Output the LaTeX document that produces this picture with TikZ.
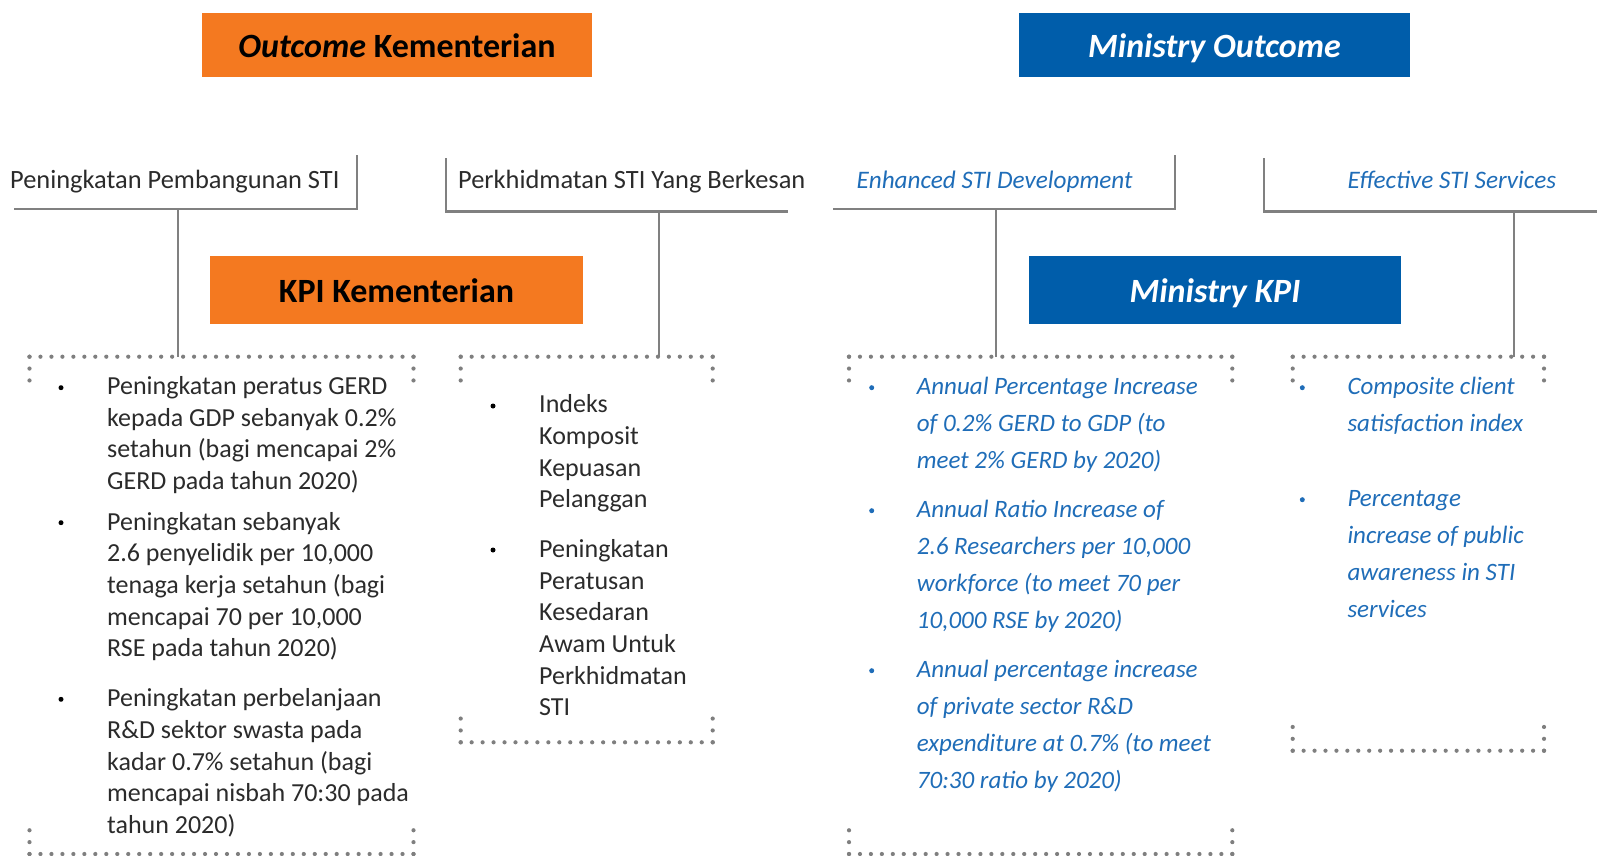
\documentclass[tikz,border=0pt]{standalone}
\usepackage{fontspec}
\setmainfont{Carlito}
\definecolor{naranja}{HTML}{F47920}
\definecolor{azulmin}{HTML}{005DAA}
\definecolor{azultexto}{HTML}{1F6DB8}
\definecolor{gris}{HTML}{808080}
\definecolor{puntogris}{HTML}{7F7F7F}
\definecolor{tinta}{HTML}{2B2B2B}

\tikzset{
  cajanaranja/.style={fill=naranja, text=black, inner sep=0pt,
    text height=25pt, text depth=0.4pt,
    font=\fontsize{34}{38}\selectfont\bfseries},
  cajaazul/.style={fill=azulmin, text=white, inner sep=0pt,
    text height=25pt, text depth=0.4pt,
    font=\fontsize{34}{38}\selectfont\bfseries\itshape},
  subtitulo/.style={anchor=base west, inner sep=0pt, text=tinta,
    font=\fontsize{26.4}{32}\selectfont},
  subazul/.style={subtitulo, text=azultexto, font=\fontsize{25.2}{32}\selectfont\itshape},
  corchete/.style={draw=gris, line width=2.2pt},
  enlace/.style={draw=gris, line width=1.8pt},
  puntos/.style={draw=puntogris, line width=4.2pt, line cap=round},
  itemnegro/.style={anchor=base west, align=left, inner sep=0pt, text=tinta,
    font=\fontsize{26}{31.7}\selectfont},
  itemazul/.style={anchor=base west, align=left, inner sep=0pt, text=azultexto,
    font=\fontsize{25}{37}\selectfont\itshape},
  vineta/.style={circle, fill=#1, inner sep=0pt, minimum size=5pt},
}

\begin{document}
\begin{tikzpicture}[x=1pt, y=-1pt]
    \useasboundingbox (0,0) rectangle (1597,856);

    % Cabeceras
    \node[cajanaranja, minimum width=390pt, minimum height=64pt] (outKem) at (397,45)
        {\textit{Outcome} Kementerian};
    \node[cajaazul, minimum width=391pt, minimum height=64pt] (outMin) at (1214.5,45)
        {Ministry Outcome};
    \node[cajanaranja, minimum width=373pt, minimum height=68pt] (kpiKem) at (396.5,290)
        {KPI Kementerian};
    \node[cajaazul, minimum width=372pt, minimum height=68pt] (kpiMin) at (1215,290)
        {Ministry KPI};

    % Subtitulos
    \node[subtitulo] (pemb) at (10,188) {Peningkatan Pembangunan STI};
    \node[subtitulo] (perk) at (458,188) {Perkhidmatan STI Yang Berkesan};
    \node[subazul] (dev) at (856.5,188) {Enhanced STI Development};
    \node[subazul] (serv) at (1347.5,188) {Effective STI Services};

    % Corchetes
    \draw[corchete] (14,209) -- (356.7,209) -- (356.7,155);
    \draw[corchete] (446,158.3) -- (446,211.5) -- (788,211.5);
    \draw[corchete] (833,209) -- (1175,209) -- (1175,155);
    \draw[corchete] (1264.3,158.3) -- (1264.3,211.5) -- (1597,211.5);

    % Enlaces hacia las cajas
    \coordinate (pieA) at (177.7,209);    \coordinate (topA) at (177.7,356.7);
    \coordinate (pieB) at (659,211.5);    \coordinate (topB) at (659,356.7);
    \coordinate (pieC) at (995.7,209);    \coordinate (topC) at (995.7,356.7);
    \coordinate (pieD) at (1514.3,211.5); \coordinate (topD) at (1514.3,356.7);
    \foreach \c in {A,B,C,D}
        \draw[enlace] (pie\c) -- (top\c);

    % Cajas punteadas
    \foreach \xa/\xb/\ya/\yb in {29.5/413.5/356.7/854, 460.7/712.7/356.7/742.3,
                                 849/1232.3/356.7/854, 1292.7/1544/356.7/750.7} {
        \pgfmathsetmacro\paso{(\xb-\xa)/round((\xb-\xa)/10.9)}
        \draw[puntos, dash pattern=on 0pt off \paso pt] (\xa,\ya) -- (\xb,\ya);
        \draw[puntos, dash pattern=on 0pt off \paso pt] (\xa,\yb) -- (\xb,\yb);
        \draw[puntos, dash pattern=on 0pt off 11.87pt] (\xa,\ya) -- (\xa,\ya+35.6);
        \draw[puntos, dash pattern=on 0pt off 11.87pt] (\xb,\ya) -- (\xb,\ya+35.6);
        \draw[puntos, dash pattern=on 0pt off 11.87pt] (\xa,\yb) -- (\xa,\yb-35.6);
        \draw[puntos, dash pattern=on 0pt off 11.87pt] (\xb,\yb) -- (\xb,\yb-35.6);
    }

    % KPI Kementerian (1) -- base en la ultima linea
    \node[vineta=black] (bA1) at (61,387.7) {};
    \node[vineta=black] (bA2) at (61,522.7) {};
    \node[vineta=black] (bA3) at (61,699.3) {};
    \node[itemnegro] (kA1) at (107,489.4)
        {Peningkatan peratus GERD\\kepada GDP sebanyak 0.2\%\\setahun (bagi mencapai 2\%\\GERD pada tahun 2020)};
    \node[itemnegro] (kA2) at (107,656.8)
        {Peningkatan sebanyak\\2.6 penyelidik per 10,000\\tenaga kerja setahun (bagi\\mencapai 70 per 10,000\\RSE pada tahun 2020)};
    \node[itemnegro] (kA3) at (107,833.5)
        {Peningkatan perbelanjaan\\R\&D sektor swasta pada\\kadar 0.7\% setahun (bagi\\mencapai nisbah 70:30 pada\\tahun 2020)};

    % KPI Kementerian (2)
    \node[vineta=black] (bB1) at (493,406) {};
    \node[vineta=black] (bB2) at (493,550) {};
    \node[itemnegro] (kB1) at (539,507.8)
        {Indeks\\Komposit\\Kepuasan\\Pelanggan};
    \node[itemnegro] (kB2) at (539,715.8)
        {Peningkatan\\Peratusan\\Kesedaran\\Awam Untuk\\Perkhidmatan\\STI};

    % Ministry KPI (1)
    \node[vineta=azultexto] (bC1) at (871.7,387.7) {};
    \node[vineta=azultexto] (bC2) at (871.7,510.7) {};
    \node[vineta=azultexto] (bC3) at (871.7,670.7) {};
    \node[itemazul] (kC1) at (916.7,468.3)
        {Annual Percentage Increase\\of 0.2\% GERD to GDP (to\\meet 2\% GERD by 2020)};
    \node[itemazul] (kC2) at (916.7,628.7)
        {Annual Ratio Increase of\\2.6 Researchers per 10,000\\workforce (to meet 70 per\\10,000 RSE by 2020)};
    \node[itemazul] (kC3) at (916.7,788.7)
        {Annual percentage increase\\of private sector R\&D\\expenditure at 0.7\% (to meet\\70:30 ratio by 2020)};

    % Ministry KPI (2)
    \node[vineta=azultexto] (bD1) at (1302.3,387.7) {};
    \node[vineta=azultexto] (bD2) at (1302.3,499.7) {};
    \node[itemazul] (kD1) at (1347.3,431.3)
        {Composite client\\satisfaction index};
    \node[itemazul] (kD2) at (1347.3,617.7)
        {Percentage\\increase of public\\awareness in STI\\services};
\end{tikzpicture}
\end{document}
